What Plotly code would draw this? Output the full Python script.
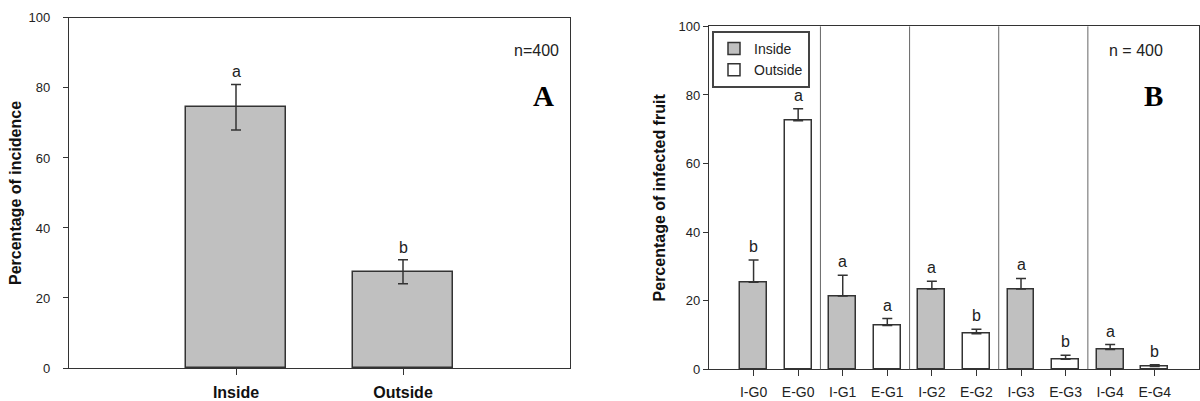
import plotly.graph_objects as go

# ---------------- Data ----------------
a_categories = ["Inside", "Outside"]
a_values = [74.5, 27.5]
a_errors = [6.5, 3.4]
a_letters = ["a", "b"]

b_labels = ["I-G0", "E-G0", "I-G1", "E-G1", "I-G2", "E-G2", "I-G3", "E-G3", "I-G4", "E-G4"]
b_inside_values = [25.4, 21.4, 23.4, 23.4, 5.8]
b_inside_errors = [6.5, 6.0, 2.3, 3.1, 1.4]
b_inside_letters = ["b", "a", "a", "a", "a"]
b_outside_values = [72.5, 12.8, 10.4, 2.9, 0.8]
b_outside_errors = [3.5, 2.0, 1.3, 1.2, 0.5]
b_outside_letters = ["a", "a", "b", "b", "b"]

y_ticks = [0, 20, 40, 60, 80, 100]

# ---------------- Styling ----------------
GRAY = "#c0c0c0"
EDGE = "#333333"
FONT = "Liberation Sans, Arial, sans-serif"
W, H = 1200, 401

fig = go.Figure()

# Panel A
a_x = [i + 1 for i in range(len(a_categories))]
fig.add_trace(go.Bar(
    x=a_x, y=a_values, width=0.6,
    marker=dict(color=GRAY, line=dict(color=EDGE, width=1.5)),
    error_y=dict(type="data", array=a_errors, visible=True, color=EDGE, thickness=1.5, width=5),
    xaxis="x", yaxis="y", showlegend=False,
))

# Panel B
b_x_inside = [2 * i + 1 for i in range(len(b_inside_values))]
b_x_outside = [2 * i + 2 for i in range(len(b_outside_values))]
fig.add_trace(go.Bar(
    x=b_x_inside, y=b_inside_values, width=0.6, name="Inside",
    marker=dict(color=GRAY, line=dict(color=EDGE, width=1.5)),
    error_y=dict(type="data", symmetric=False, array=b_inside_errors,
                 arrayminus=[0] * len(b_inside_errors), visible=True,
                 color=EDGE, thickness=1.5, width=5),
    xaxis="x2", yaxis="y2",
))
fig.add_trace(go.Bar(
    x=b_x_outside, y=b_outside_values, width=0.6, name="Outside",
    marker=dict(color="white", line=dict(color=EDGE, width=1.5)),
    error_y=dict(type="data", symmetric=False, array=b_outside_errors,
                 arrayminus=[0] * len(b_outside_errors), visible=True,
                 color=EDGE, thickness=1.5, width=5),
    xaxis="x2", yaxis="y2",
))

annotations = []
# Letters A
for x, v, e, t in zip(a_x, a_values, a_errors, a_letters):
    annotations.append(dict(x=x, y=v + e, xref="x", yref="y", text=t, showarrow=False,
                            yanchor="bottom", yshift=2, font=dict(size=16, color="#222", family=FONT)))
# Letters B
for xs, vs, es, ts in [(b_x_inside, b_inside_values, b_inside_errors, b_inside_letters),
                       (b_x_outside, b_outside_values, b_outside_errors, b_outside_letters)]:
    for x, v, e, t in zip(xs, vs, es, ts):
        annotations.append(dict(x=x, y=v + e, xref="x2", yref="y2", text=t, showarrow=False,
                                yanchor="bottom", yshift=3, font=dict(size=16, color="#222", family=FONT)))

# n labels and panel letters
annotations += [
    dict(x=536 / W, y=1 - 40 / H, xref="paper", yref="paper", text="n=400", showarrow=False,
         font=dict(size=16, color="#222", family=FONT)),
    dict(x=543 / W, y=1 - 78 / H, xref="paper", yref="paper", text="<b>A</b>", showarrow=False,
         font=dict(size=29, color="black", family="Liberation Serif, Times New Roman, serif")),
    dict(x=1165 / W, y=1 - 40 / H, xref="paper", yref="paper", text="n = 400", showarrow=False,
         font=dict(size=16, color="#222", family=FONT)),
    dict(x=1165 / W, y=1 - 78 / H, xref="paper", yref="paper", text="<b>B</b>", showarrow=False,
         font=dict(size=29, color="black", family="Liberation Serif, Times New Roman, serif")),
]

# Group separators in B
shapes = []
for k in range(1, len(b_inside_values)):
    xs = 2 * k + 0.5
    shapes.append(dict(type="line", xref="x2", yref="y2 domain", x0=xs, x1=xs, y0=0, y1=1,
                       line=dict(color="#666666", width=1)))

axis_common = dict(showline=True, linecolor=EDGE, linewidth=1.2, mirror=True, showgrid=False,
                   zeroline=False, ticks="outside", tickcolor=EDGE, ticklen=5, automargin=False,
                   tickfont=dict(size=13, color="#222", family=FONT))

fig.update_layout(
    width=W, height=H,
    margin=dict(l=0, r=0, t=0, b=0, autoexpand=False),
    paper_bgcolor="white", plot_bgcolor="white",
    font=dict(family=FONT, color="#222"),
    bargap=0,
    xaxis=dict(axis_common, domain=[69 / W, 570 / W], range=[0, len(a_categories) + 1],
               tickvals=a_x, ticktext=["<b>%s</b>" % c for c in a_categories], ticklen=6,
               tickfont=dict(size=16, color="#111", family=FONT), ticklabelstandoff=4,
               anchor="y"),
    yaxis=dict(axis_common, domain=[1 - 368 / H, 1 - 17.9 / H], range=[0, 100], tickvals=y_ticks,
               ticklabelstandoff=10, anchor="x",
               title=dict(text="<b>Percentage of incidence</b>", font=dict(size=16, color="#111", family=FONT),
                          standoff=2)),
    xaxis2=dict(axis_common, domain=[709 / W, 1199.3 / W], range=[0, len(b_labels) + 1],
                tickvals=list(range(1, len(b_labels) + 1)), ticktext=b_labels, ticklen=6,
                tickfont=dict(size=14, color="#222", family=FONT), ticklabelstandoff=4,
                anchor="y2"),
    yaxis2=dict(axis_common, domain=[1 - 369.3 / H, 1 - 26.4 / H], range=[0, 100], tickvals=y_ticks,
                anchor="x2",
                title=dict(text="<b>Percentage of infected fruit</b>", font=dict(size=16, color="#111", family=FONT),
                           standoff=8)),
    legend=dict(x=712 / W, y=1 - 31 / H, xanchor="left", yanchor="top",
                bordercolor="#444", borderwidth=2, bgcolor="white",
                font=dict(size=14, color="#222", family=FONT), tracegroupgap=0),
    annotations=annotations,
    shapes=shapes,
)

fig.write_html("out.html", config={"displayModeBar": False},
               post_script="document.body.style.margin='0px';document.body.style.overflow='hidden';")
